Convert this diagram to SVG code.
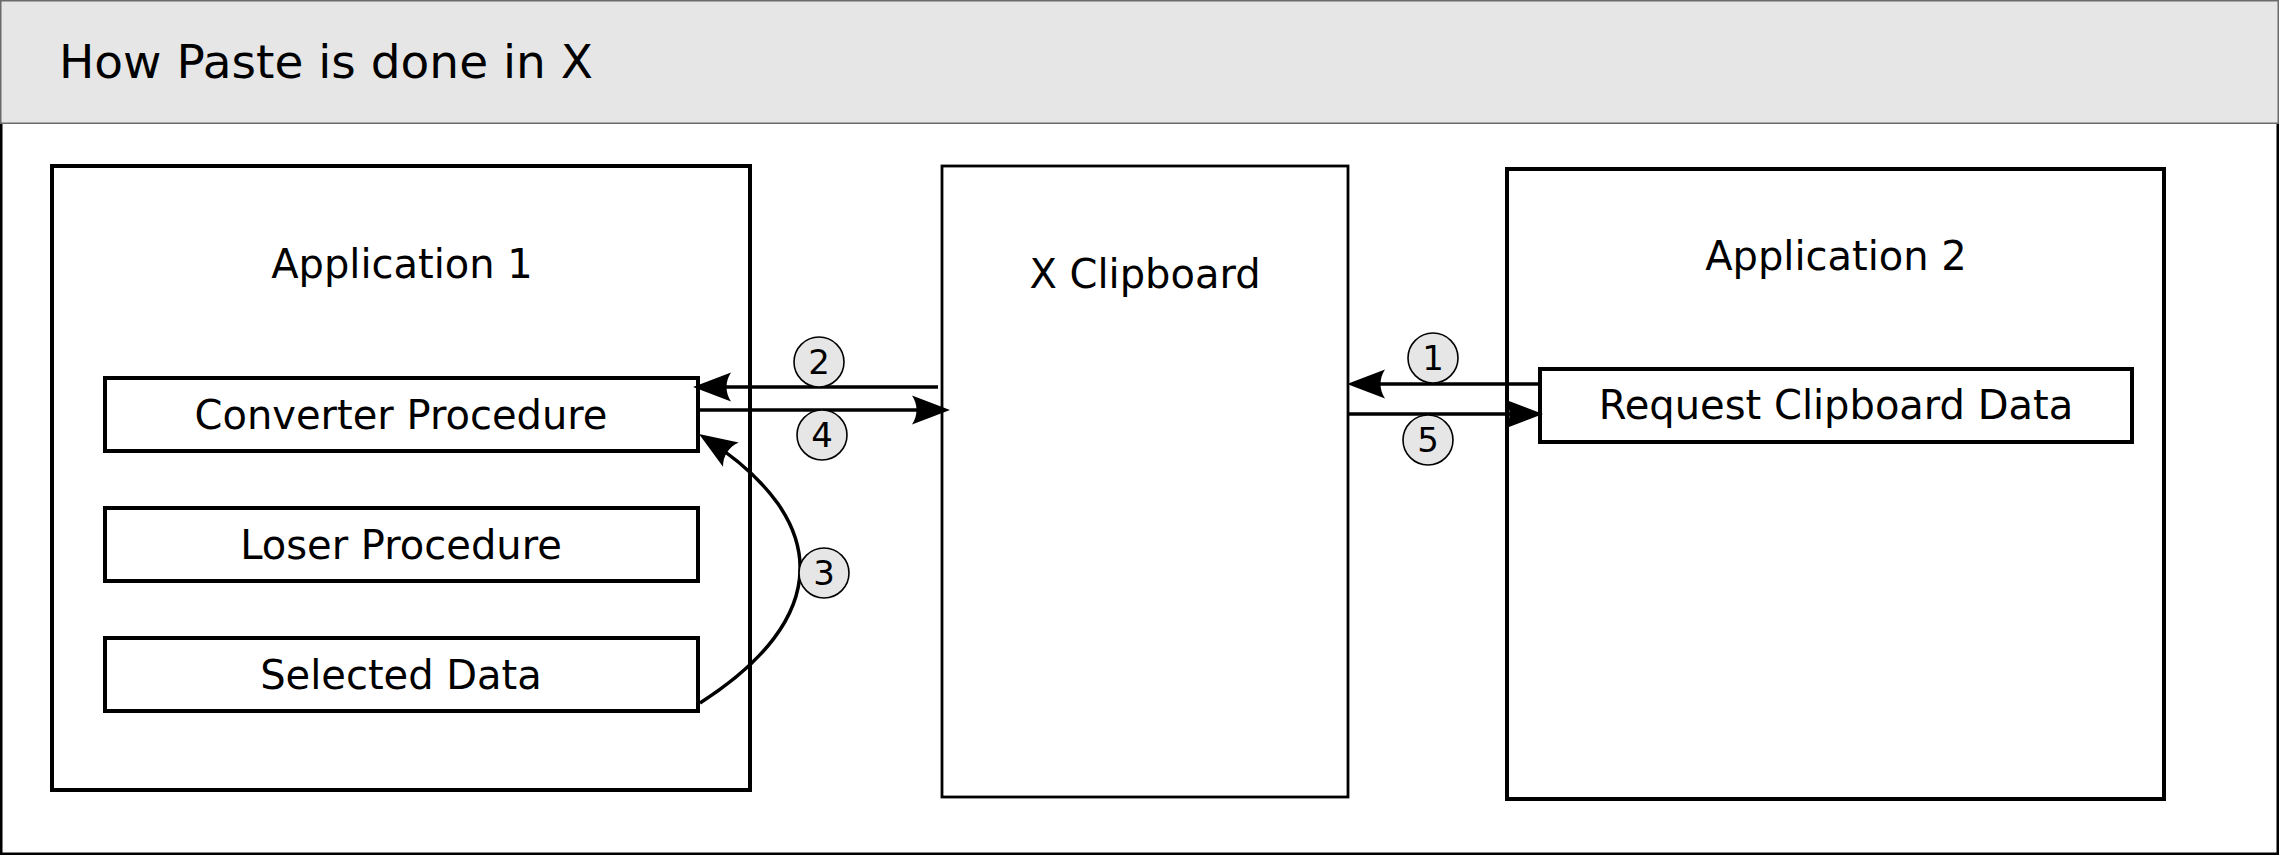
<svg xmlns="http://www.w3.org/2000/svg" width="2279" height="855" viewBox="0 0 2279 855">
<style>
  .box { fill: #ffffff; stroke: #000000; stroke-width: 4; }
  .thin { fill: #ffffff; stroke: #000000; stroke-width: 2.8; }
  .lbl { font-family: "DejaVu Sans", "Liberation Sans", sans-serif; font-size: 40px; fill: #000000; text-anchor: middle; }
  .title { font-family: "DejaVu Sans", "Liberation Sans", sans-serif; font-size: 47px; fill: #000000; }
  .conn { fill: none; stroke: #000000; stroke-width: 3.5; marker-end: url(#arrow); }
  .badge circle { fill: #e6e6e6; stroke: #000000; stroke-width: 1.6; }
  .badge text { font-family: "DejaVu Sans", "Liberation Sans", sans-serif; font-size: 34px; fill: #000000; text-anchor: middle; }
</style>
<defs>
  <marker id="arrow" markerUnits="userSpaceOnUse" viewBox="-32 -16 42 32" markerWidth="42" markerHeight="32" refX="0" refY="0" orient="auto" overflow="visible">
    <path d="M8,0 L-30,-14.5 C-24,-5.5 -24,5.5 -30,14.5 Z" fill="#000000"/>
  </marker>
</defs>
<rect x="1.25" y="1.25" width="2276.5" height="852.5" fill="#ffffff" stroke="#000000" stroke-width="2.5"/>
<g id="titlebar">
  <rect x="0.75" y="0.75" width="2277.5" height="122.5" fill="#e6e6e6" stroke="#6b6b6b" stroke-width="1.5"/>
  <text class="title" x="59" y="78">How Paste is done in X</text>
</g>
<g id="app1">
  <rect class="box" x="52" y="166" width="698" height="624"/>
  <text class="lbl" x="402" y="278">Application 1</text>
</g>
<g id="converter">
  <rect class="box" x="105" y="378" width="593" height="73"/>
  <text class="lbl" x="401" y="429">Converter Procedure</text>
</g>
<g id="loser">
  <rect class="box" x="105" y="508" width="593" height="73"/>
  <text class="lbl" x="401" y="559">Loser Procedure</text>
</g>
<g id="selected">
  <rect class="box" x="105" y="638" width="593" height="73"/>
  <text class="lbl" x="401" y="689">Selected Data</text>
</g>
<g id="xclipboard">
  <rect class="thin" x="942" y="166" width="406" height="631"/>
  <text class="lbl" x="1145" y="288">X Clipboard</text>
</g>
<g id="app2">
  <rect class="box" x="1507" y="169" width="657" height="630"/>
  <text class="lbl" x="1836" y="270">Application 2</text>
</g>
<g id="request">
  <rect class="box" x="1540" y="369" width="592" height="73"/>
  <text class="lbl" x="1836" y="419">Request Clipboard Data</text>
</g>
<g id="connectors">
  <path class="conn" d="M1539,384 H1355"/>
  <path class="conn" d="M938,387 H701"/>
  <path class="conn" d="M700,703 C830,620 835,522 705.7,438.4"/>
  <path class="conn" d="M699,410 H942"/>
  <path class="conn" d="M1348,414 H1535"/>
</g>
<g id="badges">
  <g class="badge" id="b1"><circle cx="1433" cy="358" r="25"/><text x="1433" y="370">1</text></g>
  <g class="badge" id="b2"><circle cx="819" cy="362" r="25"/><text x="819" y="374">2</text></g>
  <g class="badge" id="b3"><circle cx="824" cy="573" r="25"/><text x="824" y="585">3</text></g>
  <g class="badge" id="b4"><circle cx="822" cy="435" r="25"/><text x="822" y="447">4</text></g>
  <g class="badge" id="b5"><circle cx="1428" cy="440" r="25"/><text x="1428" y="452">5</text></g>
</g>
</svg>
